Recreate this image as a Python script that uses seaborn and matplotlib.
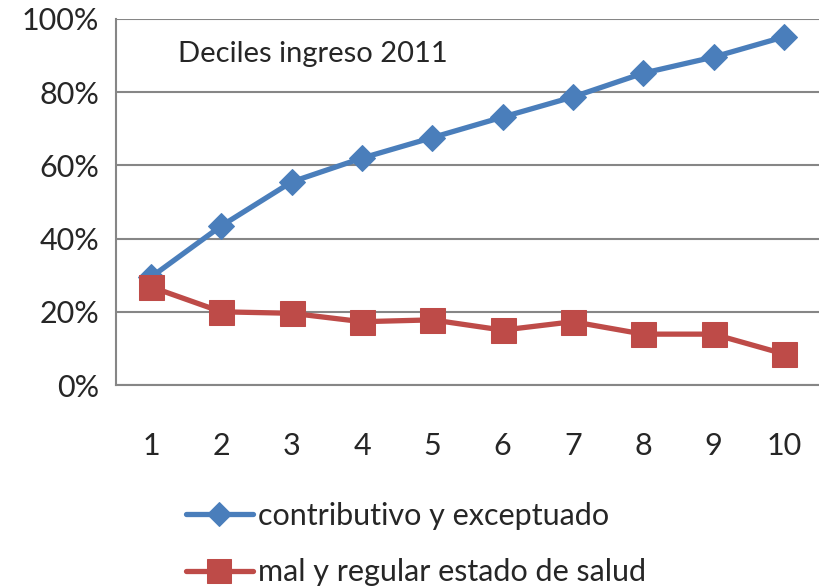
import seaborn as sns
import matplotlib.pyplot as plt
import pandas as pd
from matplotlib.ticker import FixedLocator, PercentFormatter

deciles = [1, 2, 3, 4, 5, 6, 7, 8, 9, 10]
contributivo = [29.5, 43.5, 55.5, 62.0, 67.6, 73.2, 78.7, 85.2, 89.6, 95.1]
mal_regular = [26.8, 20.0, 19.6, 17.3, 17.8, 15.0, 17.3, 13.9, 13.9, 8.5]
series_names = ["contributivo y exceptuado", "mal y regular estado de salud"]
title_text = "Deciles ingreso 2011"

blue = "#4A7EBB"
red = "#BE4B48"
grey = "#868686"

sns.set_style("white")
plt.rcParams["font.family"] = ["Lato", "DejaVu Sans"]

df_blue = pd.DataFrame({"decil": deciles, "valor": contributivo})
df_red = pd.DataFrame({"decil": deciles, "valor": mal_regular})

fig = plt.figure(figsize=(8.19, 5.88), dpi=100)
ax = fig.add_axes([0.1416, 0.3452, 0.8584, 0.6225])

sns.lineplot(data=df_blue, x="decil", y="valor", ax=ax, color=blue, lw=3.8,
             marker="D", markersize=13, markeredgecolor=blue,
             label=series_names[0], legend=False)
sns.lineplot(data=df_red, x="decil", y="valor", ax=ax, color=red, lw=3.8,
             marker="s", markersize=18, markeredgecolor=red,
             label=series_names[1], legend=False)

ax.set_xlim(0.5, 10.5)
ax.set_ylim(0, 100)
ax.set_yticks([0, 20, 40, 60, 80, 100])
ax.yaxis.set_major_formatter(PercentFormatter(decimals=0))
ax.yaxis.grid(True, color=grey, lw=1.5)
ax.set_axisbelow(True)

ax.xaxis.set_major_locator(FixedLocator([x - 0.5 for x in deciles] + [10.5]))
ax.xaxis.set_minor_locator(FixedLocator(deciles))
ax.set_xticklabels([])
ax.set_xticklabels([str(d) for d in deciles], minor=True)
ax.tick_params(axis="x", which="major", length=8, width=1.5, color=grey, direction="out")
ax.tick_params(axis="x", which="minor", length=0, pad=34, labelsize=22)
ax.tick_params(axis="y", length=8, width=1.5, color=grey, labelsize=22, pad=4)

for side in ["top", "right"]:
    ax.spines[side].set_visible(False)
for side in ["left", "bottom"]:
    ax.spines[side].set_color(grey)
    ax.spines[side].set_linewidth(1.5)

ax.set_xlabel("")
ax.set_ylabel("")
ax.text(0.088, 0.905, title_text, transform=ax.transAxes, fontsize=21,
        va="center", ha="left")

handles, labels = ax.get_legend_handles_labels()
fig.legend(handles, labels, loc="upper left", bbox_to_anchor=(0.212, 0.167),
           frameon=False, fontsize=22, handlelength=2.2, handletextpad=0.15,
           labelspacing=0.93, borderaxespad=0, markerscale=0.95)

fig.savefig("out.png", dpi=100)
